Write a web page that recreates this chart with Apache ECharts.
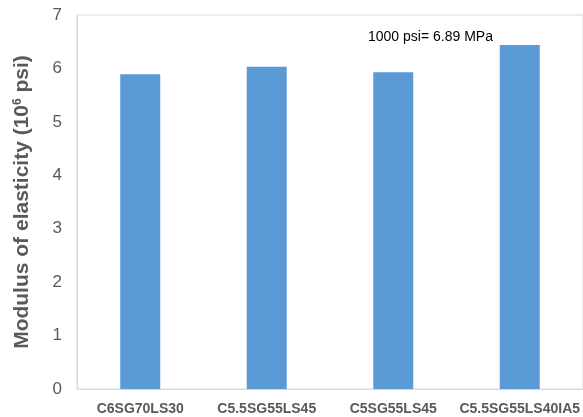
<!DOCTYPE html>
<html>
<head>
<meta charset="utf-8">
<script src="https://cdn.jsdelivr.net/npm/echarts@6/dist/echarts.min.js"></script>
<style>html,body{margin:0;padding:0;background:#fff;}#c{width:583px;height:417px;}</style>
</head>
<body>
<div id="c"></div>
<script>
var categories = ['C6SG70LS30', 'C5.5SG55LS45', 'C5SG55LS45', 'C5.5SG55LS40IA5'];
var modulus = [5.89, 6.03, 5.93, 6.44];
var yTicks = [0, 1, 2, 3, 4, 5, 6, 7];
var note = '1000 psi= 6.89 MPa';

var chart = echarts.init(document.getElementById('c'), null, {renderer: 'canvas'});
chart.setOption({
  animation: false,
  backgroundColor: '#fff',
  title: {
    text: note,
    left: 368, top: 30, padding: 0,
    textStyle: {fontFamily: 'Liberation Sans, Arial', fontSize: 14, fontWeight: 'normal', color: '#000'}
  },
  grid: {left: 77, right: -2, top: 15, bottom: 28, show: true, borderColor: '#d9d9d9', borderWidth: 1},
  xAxis: {
    type: 'category',
    data: categories,
    axisLine: {show: true, lineStyle: {color: '#d9d9d9', width: 1}},
    axisTick: {show: false},
    axisLabel: {
      interval: 0, margin: 13,
      fontFamily: 'Liberation Sans, Arial', fontSize: 14, fontWeight: 'bold', color: '#595959'
    }
  },
  yAxis: {
    type: 'value',
    min: yTicks[0], max: yTicks[yTicks.length - 1], interval: 1,
    axisLine: {show: true, lineStyle: {color: '#d9d9d9', width: 1}},
    axisTick: {show: false},
    splitLine: {show: false},
    axisLabel: {margin: 15, fontFamily: 'Liberation Sans, Arial', fontSize: 17, color: '#595959'},
    name: '{a|Modulus of elasticity (10}{s|6}{a| psi)}',
    nameLocation: 'middle',
    nameGap: 44,
    nameTextStyle: {
      rich: {
        a: {fontFamily: 'Liberation Sans, Arial', fontSize: 21, fontWeight: 'bold', color: '#595959'},
        s: {fontFamily: 'Liberation Sans, Arial', fontSize: 12, fontWeight: 'bold', color: '#595959', verticalAlign: 'top', padding: [0, 0, 8, 0]}
      }
    }
  },
  series: [{
    type: 'bar',
    data: modulus,
    barWidth: 40,
    itemStyle: {color: '#5b9bd5'}
  }]
});
</script>
</body>
</html>
